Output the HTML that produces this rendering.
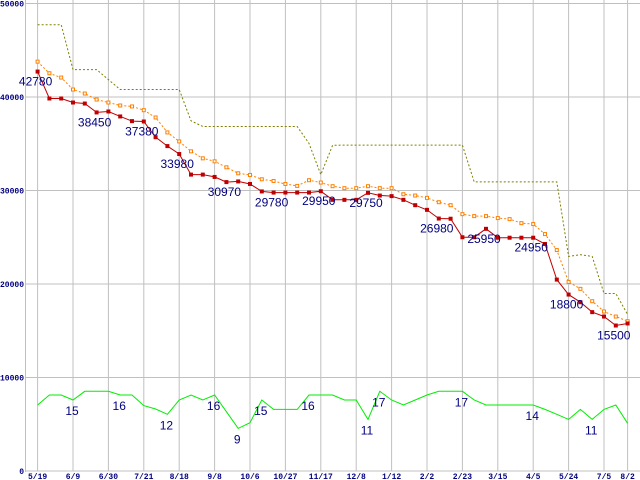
<!DOCTYPE html>
<html><head><meta charset="utf-8"><style>
html,body{margin:0;padding:0;background:#fff;}
svg{display:block;}
</style></head><body>
<svg id="chart" width="640" height="480" xmlns="http://www.w3.org/2000/svg"></svg>
<script>
const xLabels=["5/19","6/9","6/30","7/21","8/18","9/8","10/6","10/27","11/17","12/8","1/12","2/2","2/23","3/15","4/5","5/24","7/5","8/2"];
const xLabelIdx=[0,3,6,9,12,15,18,21,24,27,30,33,36,39,42,45,48,50];
const yTicks=[0,10000,20000,30000,40000,50000];
const priceMin=[42720,39840,39840,39410,39300,38350,38450,37920,37420,37380,35700,34750,33900,31700,31700,31450,30900,30970,30700,29900,29780,29780,29780,29780,29920,29000,29000,29000,29750,29460,29400,29000,28430,27930,27000,26980,25000,25000,25900,24950,24950,24950,24950,24280,20470,18870,18050,16990,16520,15560,15780];
const priceAvg=[43780,42540,42080,40800,40370,39730,39410,39090,38990,38590,37810,36210,35250,34190,33440,33120,32480,31840,31660,31200,31020,30700,30490,31100,30850,30460,30250,30250,30460,30250,30250,29600,29460,29210,28750,28430,27470,27260,27260,27050,26940,26510,26410,25340,23630,20220,19480,18160,17060,16520,16020];
const priceMax=[47730,47730,47730,42930,42930,42930,41860,40800,40800,40800,40800,40800,40800,37450,36850,36850,36850,36850,36850,36850,36850,36850,36850,35040,31700,34830,34860,34860,34860,34860,34860,34860,34860,34860,34860,34860,34860,30920,30920,30920,30920,30920,30920,30920,30920,22950,23130,22950,18980,18980,16740];
const volume=[7060,8130,8130,7590,8520,8520,8520,8130,8130,6990,6630,6060,7590,8130,7590,8130,6340,4560,5170,7590,6590,6590,6590,8130,8130,8130,7590,7590,5520,8520,7590,7060,7590,8130,8520,8520,8520,7590,7060,7060,7060,7060,7060,6590,6060,5520,6590,5520,6590,7060,5100];
const priceLabelIdx=[0,5,9,12,16,20,24,28,34,38,42,45,49];
const priceLabelText=["42780","38450","37380","33980","30970","29780","29950","29750","26980","25950","24950","18800","15500"];
const countLabelIdx=[3,7,11,15,17,19,23,28,29,36,42,47];
const countLabelText=["15","16","12","16","9","15","16","11","17","17","14","11"];

const NS="http://www.w3.org/2000/svg";
const svg=document.getElementById('chart');
const X=i=>37.6+i*11.8;
const Y=v=>471-v*0.00935;
function mk(tag,attrs,parent){const e=document.createElementNS(NS,tag);for(const k in attrs)e.setAttribute(k,attrs[k]);(parent||svg).appendChild(e);return e;}

const grid=mk('g',{});


yTicks.forEach(t=>{
  const l=mk('line',{x1:25,x2:640,y1:Y(t),y2:Y(t),stroke:'#c0c0c0','stroke-width':1},grid);
  
  
  const tx=mk('text',{x:24,y:t===0?474:Y(t)+3,'text-anchor':'end','font-family':'Liberation Mono, monospace','font-size':8,'font-weight':'bold',fill:'#000080'});
  tx.textContent=t;
  
  
});
xLabelIdx.forEach((idx,k)=>{
  const l=mk('line',{x1:X(idx),x2:X(idx),y1:0,y2:471,stroke:'#c0c0c0','stroke-width':1},grid);
  
  
  const tx=mk('text',{x:X(idx),y:479,'text-anchor':'middle','font-family':'Liberation Mono, monospace','font-size':8,'font-weight':'bold',fill:'#000080'});
  tx.textContent=xLabels[k];
  
  
});
const ax=mk('line',{x1:25.5,x2:25.5,y1:0,y2:472,stroke:'#c0c0c0','stroke-width':1});



function pts(arr){return arr.map((v,i)=>X(i).toFixed(1)+','+Y(v).toFixed(1)).join(' ');}
const maxL=mk('polyline',{points:pts(priceMax),fill:'none',stroke:'#808000','stroke-width':1,'stroke-dasharray':'2,2'});


const avgL=mk('polyline',{points:pts(priceAvg),fill:'none',stroke:'#ff8000','stroke-width':1,'stroke-dasharray':'2,2'});


priceAvg.forEach((v,i)=>{
  const r=mk('rect',{x:X(i)-1.5,y:Y(v)-1.5,width:3,height:3,fill:'#fff',stroke:'#ff8000','stroke-width':1});
  
  
});
const minL=mk('polyline',{points:pts(priceMin),fill:'none',stroke:'#c00000','stroke-width':1});


priceMin.forEach((v,i)=>{
  const r=mk('rect',{x:X(i)-2,y:Y(v)-2,width:4,height:4,fill:'#c00000'});
  
  
});
const volL=mk('polyline',{points:pts(volume),fill:'none',stroke:'#00ee00','stroke-width':1});



priceLabelIdx.forEach((idx,k)=>{
  const t=mk('text',{x:X(idx)-2,y:Y(priceMin[idx])+14,'text-anchor':'middle','font-family':'Liberation Sans, sans-serif','font-size':12,fill:'#000080'});
  t.textContent=priceLabelText[k];
  
  
});
countLabelIdx.forEach((idx,k)=>{
  const t=mk('text',{x:X(idx)-1,y:Y(volume[idx])+15,'text-anchor':'middle','font-family':'Liberation Sans, sans-serif','font-size':12,fill:'#000080'});
  t.textContent=countLabelText[k];
  
  
});
</script>
</body></html>
